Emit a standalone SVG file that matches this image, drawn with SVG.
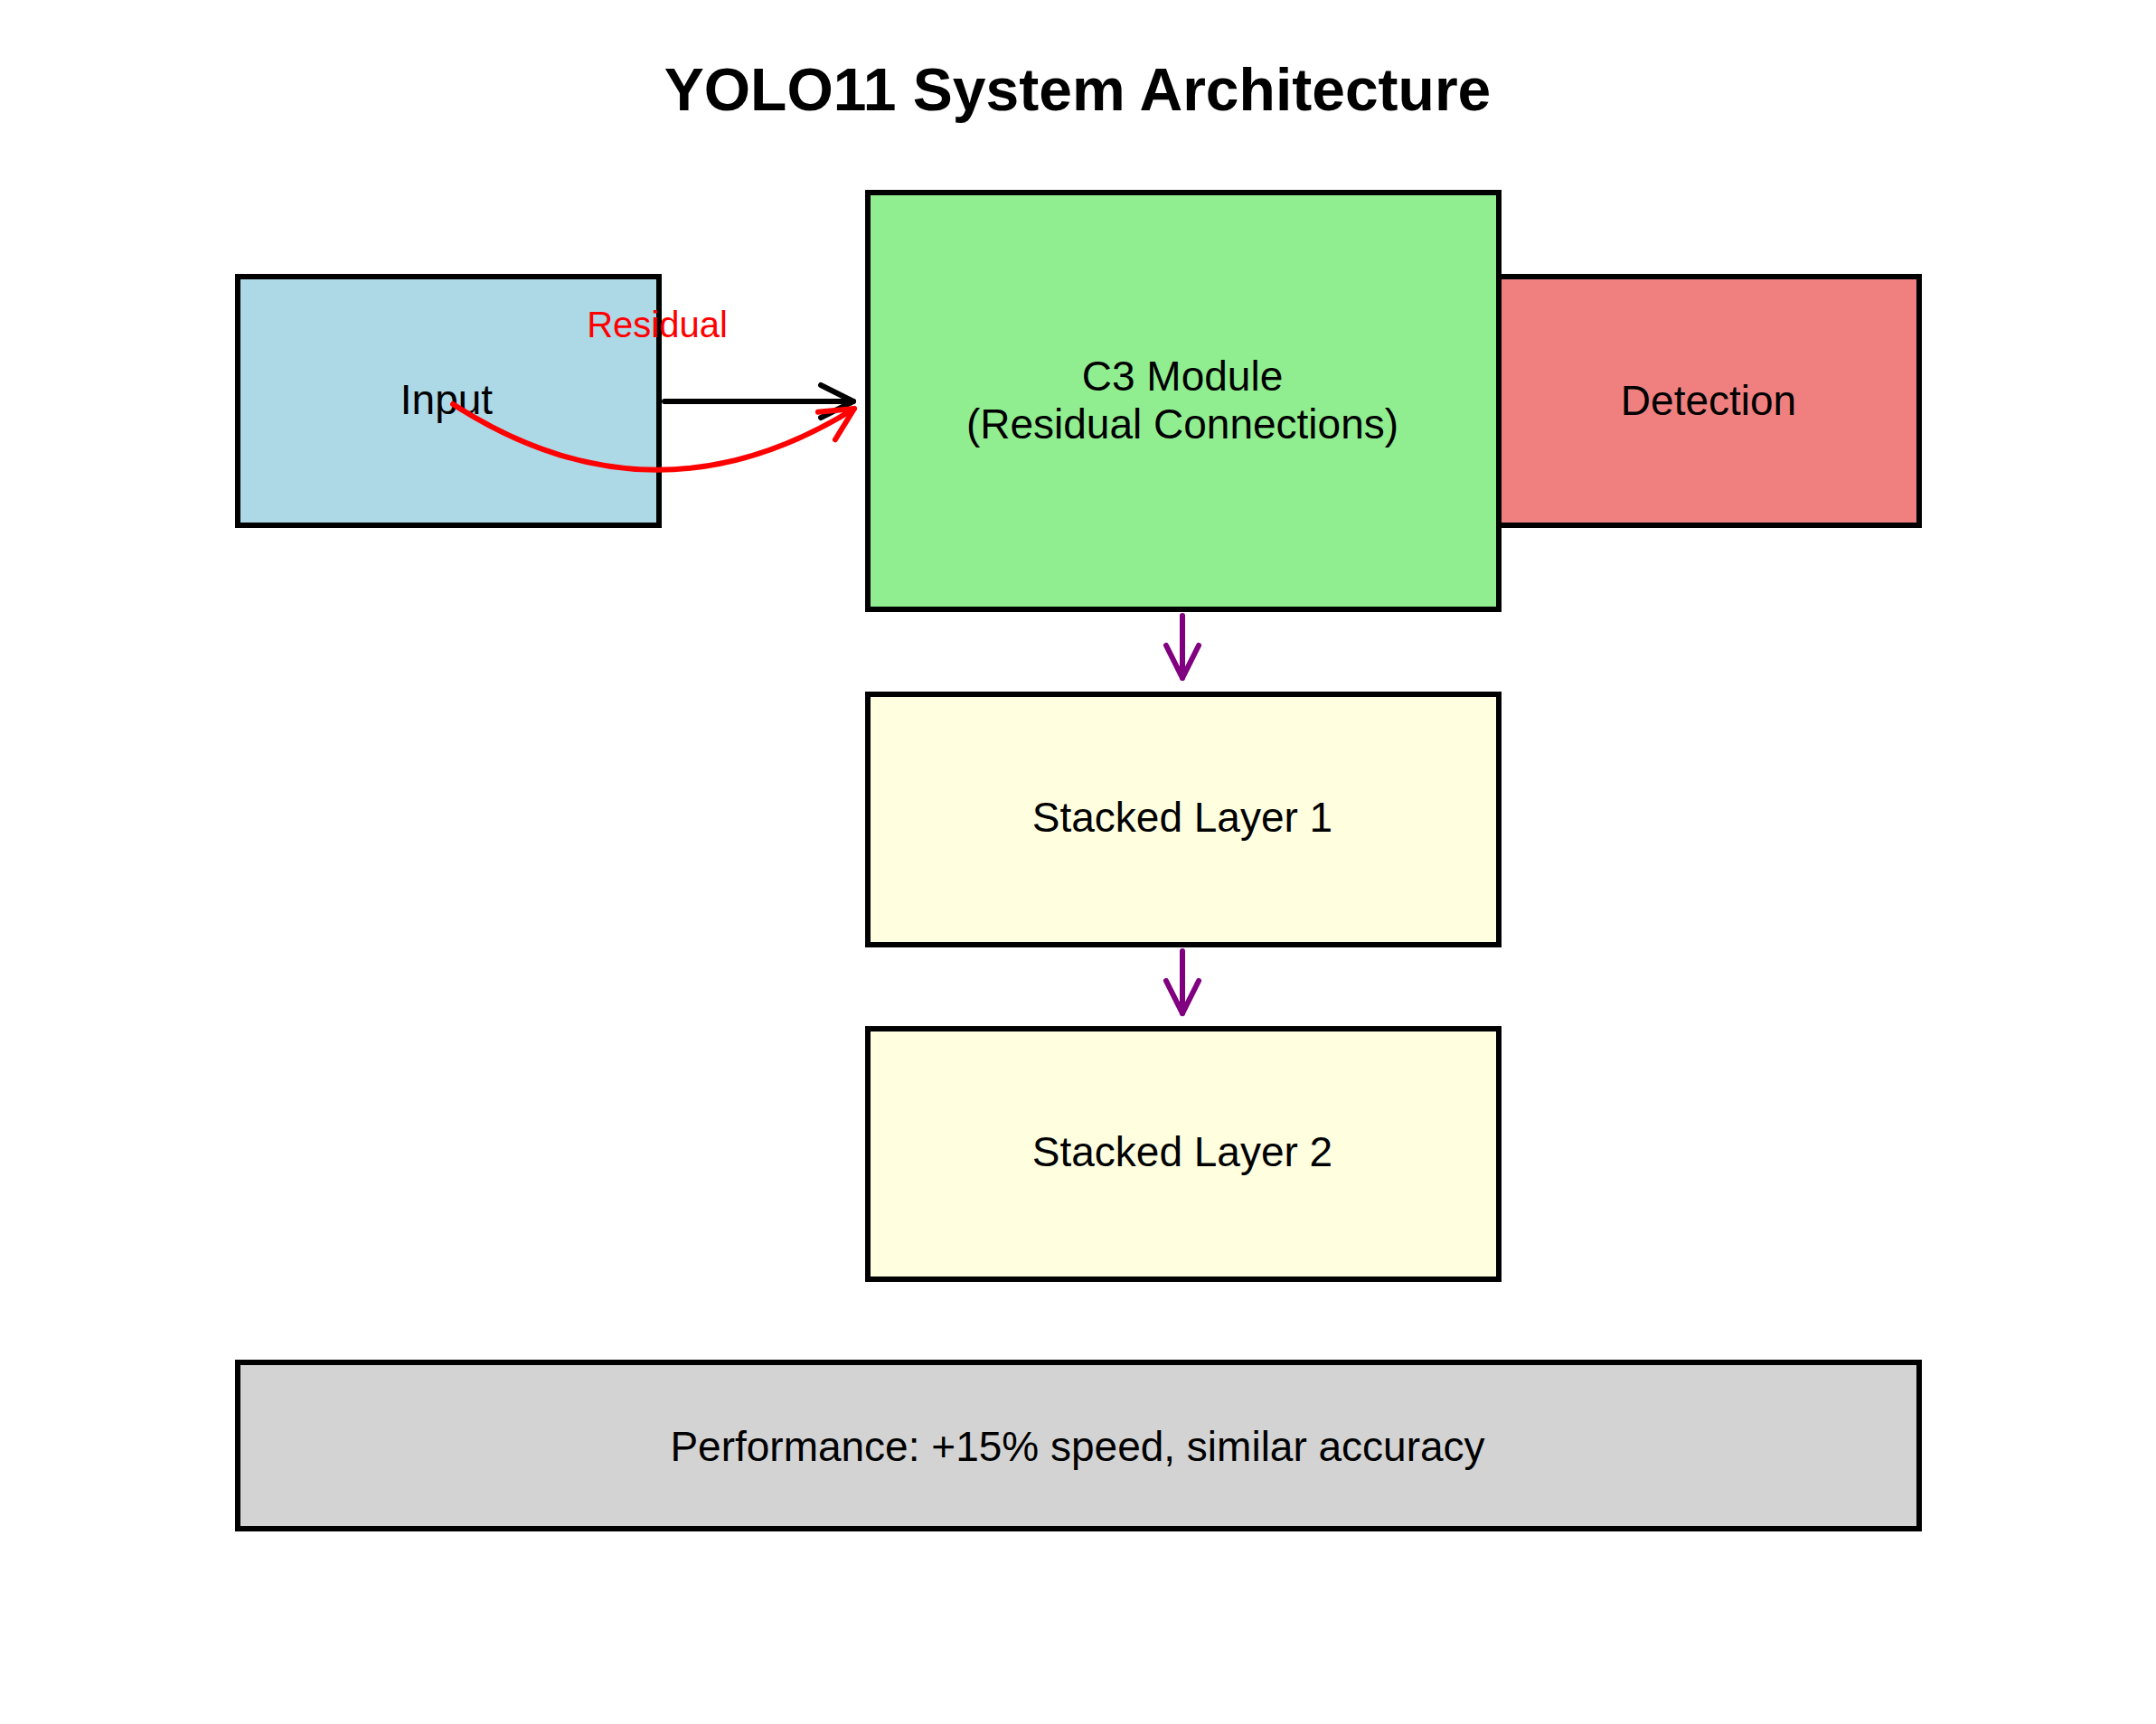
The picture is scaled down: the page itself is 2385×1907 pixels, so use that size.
<svg xmlns="http://www.w3.org/2000/svg" width="2385" height="1907" viewBox="0 0 2385 1907">
<style>
.box{stroke:#000;stroke-width:6}
.t{font-family:"Liberation Sans",Arial,sans-serif;font-size:46px;text-anchor:middle;fill:#000}
.c{fill:none;stroke-width:6;stroke-linecap:round}
</style>
<defs>
<marker id="ak" markerUnits="userSpaceOnUse" markerWidth="50" markerHeight="50" refX="40" refY="20" orient="auto" viewBox="0 0 50 40"><path d="M4,2 L40,20 L4,38" fill="none" stroke="#000" stroke-width="6" stroke-linecap="round" stroke-linejoin="round"/></marker>
<marker id="ar" markerUnits="userSpaceOnUse" markerWidth="50" markerHeight="50" refX="40" refY="20" orient="auto" viewBox="0 0 50 40"><path d="M4,2 L40,20 L4,38" fill="none" stroke="#f00" stroke-width="6" stroke-linecap="round" stroke-linejoin="round"/></marker>
<marker id="ap" markerUnits="userSpaceOnUse" markerWidth="50" markerHeight="50" refX="40" refY="20" orient="auto" viewBox="0 0 50 40"><path d="M4,2 L40,20 L4,38" fill="none" stroke="#800080" stroke-width="6" stroke-linecap="round" stroke-linejoin="round"/></marker>
</defs>
<rect width="2385" height="1907" fill="#fff"/>
<text x="1192" y="122" class="t" style="font-size:66px;font-weight:bold">YOLO11 System Architecture</text>
<g id="detection"><rect class="box" x="1658" y="306" width="465" height="275" fill="#f08080"/><text class="t" x="1890" y="459">Detection</text></g>
<g id="input"><rect class="box" x="263" y="306" width="466" height="275" fill="#add8e6"/><text class="t" x="494" y="458">Input</text></g>
<g id="c3"><rect class="box" x="960" y="213" width="698" height="461" fill="#90ee90"/><text class="t" x="1308" y="432">C3 Module</text><text class="t" x="1308" y="485">(Residual Connections)</text></g>
<g id="stacked1"><rect class="box" x="960" y="768" width="698" height="277" fill="#ffffe0"/><text class="t" x="1308" y="920">Stacked Layer 1</text></g>
<g id="stacked2"><rect class="box" x="960" y="1138" width="698" height="277" fill="#ffffe0"/><text class="t" x="1308" y="1290">Stacked Layer 2</text></g>
<g id="performance"><rect class="box" x="263" y="1507" width="1860" height="184" fill="#d3d3d3"/><text class="t" x="1192" y="1616">Performance: +15% speed, similar accuracy</text></g>
<g id="connectors">
<path class="c" d="M735,444 L944,444" stroke="#000" marker-end="url(#ak)"/>
<path class="c" d="M501,447 Q723,590 945,452" stroke="#f00" marker-end="url(#ar)"/>
<text x="727" y="373" class="t" style="font-size:40px;fill:#f00">Residual</text>
<path class="c" d="M1308,681 L1308,750" stroke="#800080" marker-end="url(#ap)"/>
<path class="c" d="M1308,1052 L1308,1121" stroke="#800080" marker-end="url(#ap)"/>
</g>
</svg>
